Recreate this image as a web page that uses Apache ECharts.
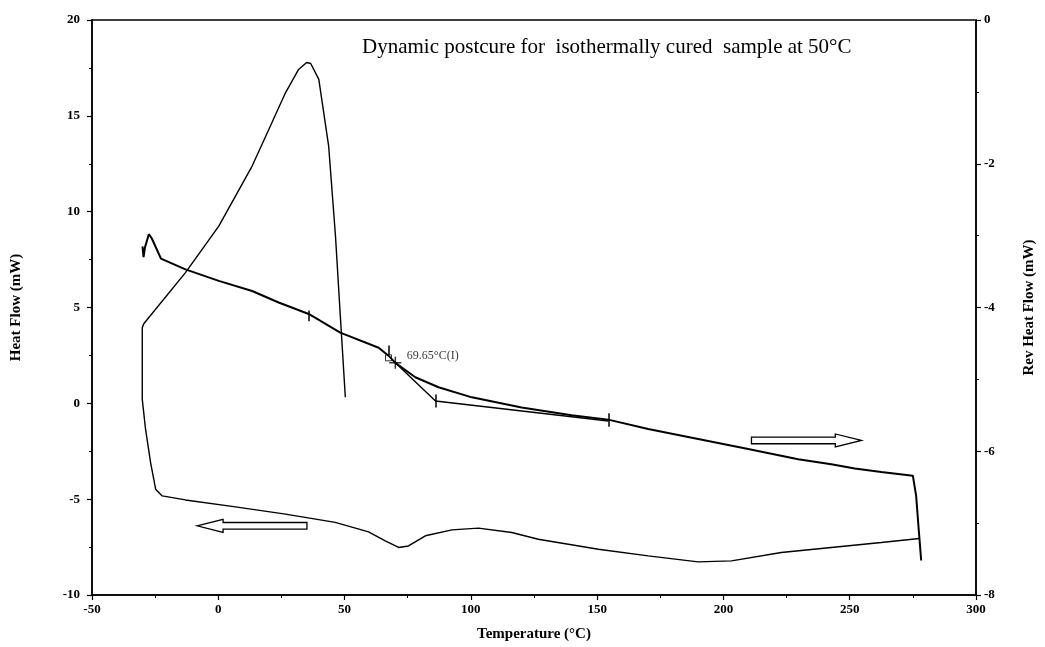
<!DOCTYPE html>
<html>
<head>
<meta charset="utf-8">
<script src="https://cdn.jsdelivr.net/npm/echarts@6/dist/echarts.min.js"></script>
<style>
html,body{margin:0;padding:0;background:#fff;}
#chart{width:1045px;height:647px;}
</style>
</head>
<body>
<div id="chart"></div>
<script>
// ---- data ----
const titleText = 'Dynamic postcure for  isothermally cured  sample at 50\u00B0C';
const xName = 'Temperature (\u00B0C)';
const yLeftName = 'Heat Flow (mW)';
const yRightName = 'Rev Heat Flow (mW)';

// Heat Flow (left axis), traced as one continuous trace
const hfTemp = [277.6, 262.5, 242.7, 222.9, 203.2, 190.0, 170.2, 150.5, 126.7, 116.2, 103.0, 92.5, 82.0, 75.3, 71.4, 66.1, 59.5, 46.3, 26.6, 6.8, -13.0, -22.2, -24.8, -26.8, -28.8, -30.1, -30.1, -30.1, -29.5, -13.0, 0.2, 13.4, 20.0, 26.6, 31.8, 35.0, 36.6, 39.8, 43.7, 46.4, 48.4, 50.3];
const hfValue = [-7.05, -7.26, -7.52, -7.78, -8.22, -8.27, -7.96, -7.61, -7.09, -6.74, -6.51, -6.60, -6.91, -7.44, -7.52, -7.17, -6.71, -6.21, -5.78, -5.40, -5.04, -4.83, -4.48, -3.09, -1.35, 0.21, 1.26, 3.95, 4.15, 6.82, 9.25, 12.38, 14.29, 16.20, 17.42, 17.78, 17.73, 16.90, 13.42, 8.73, 4.38, 0.32];

// Rev Heat Flow (right axis)
const revTemp = [-30.0, -29.6, -29.0, -27.5, -26.3, -22.7, -13.0, 0.2, 13.4, 23.9, 35.8, 48.3, 63.5, 67.4, 70.1, 78.0, 87.2, 100.4, 120.1, 139.9, 154.4, 170.2, 190.0, 209.8, 229.6, 242.7, 252.0, 262.5, 275.0, 276.3, 277.3, 278.3];
const revValue = [-3.15, -3.30, -3.16, -2.98, -3.04, -3.32, -3.47, -3.63, -3.77, -3.93, -4.09, -4.35, -4.56, -4.67, -4.77, -4.97, -5.11, -5.25, -5.39, -5.50, -5.56, -5.69, -5.83, -5.97, -6.11, -6.18, -6.24, -6.29, -6.34, -6.62, -7.08, -7.52];

// Glass transition construction (right axis)
const tanTemp = [70.1, 86.0, 154.4];
const tanValue = [-4.77, -5.30, -5.58];
const markTemp = [35.8, 67.4, 86.0, 154.4];
const markTop = [-4.04, -4.53, -5.21, -5.47];
const markBottom = [-4.19, -4.69, -5.39, -5.66];
const inflTemp = 70.1, inflValue = -4.77, inflLabel = '69.65\u00B0C(I)';
const onsetTemp = 67.4, onsetValue = -4.70;

// Direction arrows (data coordinates)
const leftArrow = {tip: -8.4, tail: 35.1, level: -6.39, axis: 0};
const rightArrow = {tip: 254.6, tail: 211.1, level: -5.85, axis: 1};

// axis ticks
const xMin = -50, xMax = 300, xStep = 50;
const yLMin = -10, yLMax = 20, yLStep = 5;
const yRMin = -8, yRMax = 0, yRStep = 2;

// ---- chart ----
const FONT = 'Liberation Serif';
const zip = (a, b) => a.map((v, i) => [v, b[i]]);
const chart = echarts.init(document.getElementById('chart'), null, {renderer: 'canvas'});

const axisCommon = {
  axisLine: {show: true, onZero: false, lineStyle: {color: '#000', width: 1.5}},
  axisTick: {show: true, inside: false, length: 5, lineStyle: {color: '#000', width: 1.2}},
  minorTick: {show: true, splitNumber: 2, length: 3, lineStyle: {color: '#000', width: 1}},
  splitLine: {show: false},
  axisLabel: {color: '#000', fontFamily: FONT, fontWeight: 'bold', fontSize: 13},
  nameTextStyle: {color: '#000', fontFamily: FONT, fontWeight: 'bold', fontSize: 15}
};

chart.setOption({
  animation: false,
  backgroundColor: '#fff',
  title: {
    text: titleText, left: 357, top: 32,
    textStyle: {fontFamily: FONT, fontWeight: 'normal', fontSize: 21, color: '#000'}
  },
  grid: {left: 92, right: 68, top: 20, bottom: 51, show: true, borderColor: '#000', borderWidth: 1.5, containLabel: false},
  xAxis: Object.assign({}, axisCommon, {
    type: 'value', min: xMin, max: xMax, interval: xStep,
    name: xName, nameLocation: 'middle', nameGap: 32,
    axisLabel: Object.assign({}, axisCommon.axisLabel, {margin: 8})
  }),
  yAxis: [
    Object.assign({}, axisCommon, {
      type: 'value', min: yLMin, max: yLMax, interval: yLStep, position: 'left',
      name: yLeftName, nameLocation: 'middle', nameGap: 68, nameRotate: 90,
      axisLabel: Object.assign({}, axisCommon.axisLabel, {margin: 12})
    }),
    Object.assign({}, axisCommon, {
      type: 'value', min: yRMin, max: yRMax, interval: yRStep, position: 'right',
      name: yRightName, nameLocation: 'middle', nameGap: 46, nameRotate: 90,
      axisLabel: Object.assign({}, axisCommon.axisLabel, {margin: 8})
    })
  ],
  series: [
    {
      name: 'Heat Flow', type: 'line', yAxisIndex: 0, data: zip(hfTemp, hfValue),
      showSymbol: false, symbol: 'none', smooth: false,
      lineStyle: {color: '#000', width: 1.4}
    },
    {
      name: 'Rev Heat Flow', type: 'line', yAxisIndex: 1, data: zip(revTemp, revValue),
      showSymbol: false, symbol: 'none', smooth: false,
      lineStyle: {color: '#000', width: 2}
    },
    {
      name: 'Tangent', type: 'line', yAxisIndex: 1, data: zip(tanTemp, tanValue),
      showSymbol: false, symbol: 'none',
      lineStyle: {color: '#000', width: 1.4}
    },
    {
      name: 'Marks', type: 'lines', coordinateSystem: 'cartesian2d', xAxisIndex: 0, yAxisIndex: 1,
      data: markTemp.map((t, i) => ({coords: [[t, markTop[i]], [t, markBottom[i]]]})),
      lineStyle: {color: '#000', width: 1.5, opacity: 1}
    },
    {
      name: 'Onset', type: 'scatter', yAxisIndex: 1, data: [[onsetTemp, onsetValue]],
      symbol: 'rect', symbolSize: 6,
      itemStyle: {color: '#fff', borderColor: '#000', borderWidth: 1}
    },
    {
      name: 'Inflection', type: 'scatter', yAxisIndex: 1, data: [[inflTemp, inflValue]],
      symbol: 'path://M0,5L10,5M5,0L5,10', symbolSize: 12,
      itemStyle: {color: 'none', borderColor: '#000', borderWidth: 1.5},
      label: {
        show: true, position: 'right', distance: 3, offset: [0, -7],
        formatter: inflLabel, color: '#000', fontFamily: FONT, fontSize: 12
      }
    }
  ]
});

function arrowPoints(a) {
  const tip = chart.convertToPixel({xAxisIndex: 0, yAxisIndex: a.axis}, [a.tip, a.level]);
  const tail = chart.convertToPixel({xAxisIndex: 0, yAxisIndex: a.axis}, [a.tail, a.level]);
  const dir = tail[0] > tip[0] ? 1 : -1;
  const y = tip[1], hx = tip[0] + dir * 26;
  return [[tip[0], y], [hx, y - 6.5], [hx, y - 3.3], [tail[0], y - 3.3], [tail[0], y + 3.3], [hx, y + 3.3], [hx, y + 6.5]];
}
chart.setOption({
  graphic: [leftArrow, rightArrow].map(a => ({
    type: 'polygon', shape: {points: arrowPoints(a)},
    style: {fill: '#fff', stroke: '#000', lineWidth: 1.3}, z: 10
  }))
});
</script>
</body>
</html>
